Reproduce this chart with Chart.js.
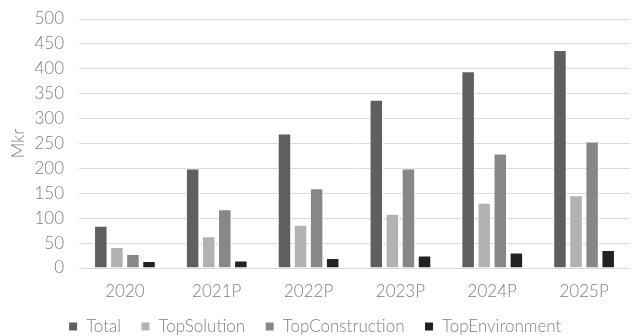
<!DOCTYPE html>
<html>
<head>
<meta charset="utf-8">
<script src="https://cdn.jsdelivr.net/npm/chart.js@4/dist/chart.umd.min.js"></script>
<style>
  html, body { margin: 0; padding: 0; background: #fff; }
  #wrap { width: 634px; height: 336px; position: relative; }
</style>
</head>
<body>
<div id="wrap"><canvas id="chart"></canvas></div>
<script>
// Categories and series (Mkr)
const years = ['2020', '2021P', '2022P', '2023P', '2024P', '2025P'];
const total = [85, 200, 270, 338, 395, 438];
const topSolution = [42, 64, 87, 109, 131, 146];
const topConstruction = [28, 118, 160, 200, 230, 254];
const topEnvironment = [14, 15, 20, 25, 31, 36];

const font = { family: '"Lato Light", Lato, "Open Sans", sans-serif', size: 17, weight: '300' };
const textColor = '#808080';

function series(label, data, color) {
    return {
        label: label,
        data: data,
        backgroundColor: color,
        borderColor: '#ffffff',
        borderWidth: 1,
        categoryPercentage: 0.7,
        barPercentage: 0.84
    };
}

// keep the legend strip a fixed height at the bottom
const legendHeight = {
    id: 'legendHeight',
    afterInit(chart) {
        const legend = chart.legend;
        const fit = legend.fit;
        legend.fit = function () {
            fit.call(this);
            this.height = 38;
        };
    }
};

new Chart(document.getElementById('chart').getContext('2d'), {
    type: 'bar',
    data: {
        labels: years,
        datasets: [
            series('Total', total, '#5f5f5f'),
            series('TopSolution', topSolution, '#b2b2b2'),
            series('TopConstruction', topConstruction, '#878787'),
            series('TopEnvironment', topEnvironment, '#222222')
        ]
    },
    plugins: [legendHeight],
    options: {
        responsive: true,
        maintainAspectRatio: false,
        animation: false,
        layout: { padding: { top: 19, right: 4, left: 0, bottom: 0 } },
        plugins: {
            legend: {
                position: 'bottom',
                labels: {
                    font: font,
                    color: textColor,
                    boxWidth: 9,
                    boxHeight: 9,
                    padding: 20
                }
            },
            tooltip: { enabled: false }
        },
        scales: {
            x: {
                grid: { display: false, drawTicks: false },
                border: { display: false },
                ticks: { font: font, color: textColor, padding: 13 },
                afterFit: (scale) => { scale.height = 30; }
            },
            y: {
                min: 0,
                max: 500,
                ticks: { stepSize: 50, font: font, color: textColor, padding: 15 },
                grid: { color: '#d9d9d9', lineWidth: 1, drawTicks: false },
                border: { display: false },
                title: { display: true, text: 'Mkr', font: font, color: textColor, padding: { top: 8, bottom: 8 } },
                afterFit: (scale) => {
                    scale.width = 79;
                    scale.paddingTop = 0;
                    scale.paddingBottom = 0;
                }
            }
        }
    }
});
</script>
</body>
</html>
